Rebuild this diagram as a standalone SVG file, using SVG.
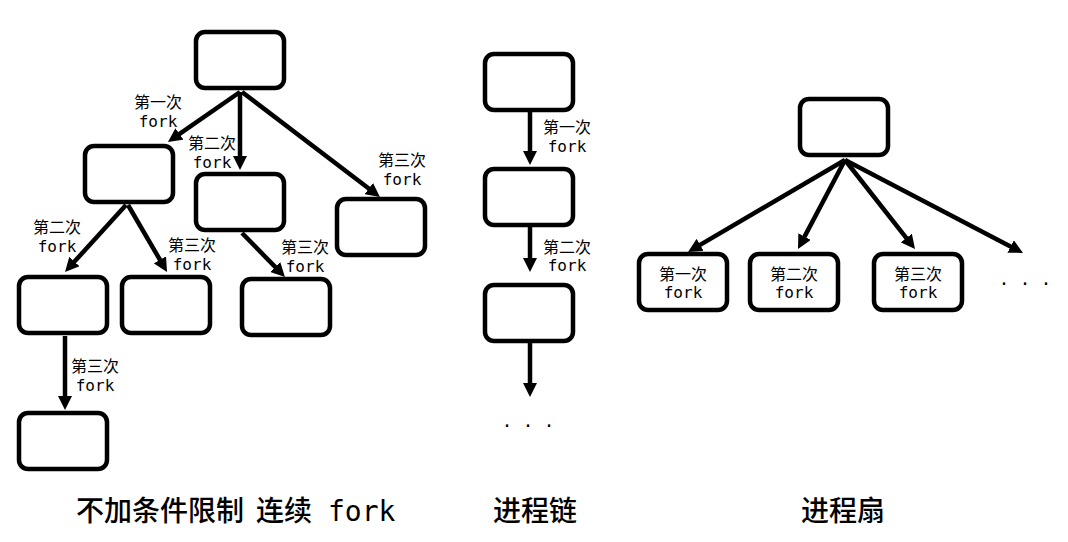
<svg xmlns="http://www.w3.org/2000/svg" width="1068" height="542" viewBox="0 0 1068 542">
<style>
.n{fill:#fff;stroke:#000;stroke-width:4.5}
.e{stroke:#000;stroke-width:4.5;fill:none;marker-end:url(#ah)}
text{font-family:"DejaVu Sans Mono","Noto Sans CJK SC",monospace;fill:#000;text-anchor:middle}
.l{font-size:16px}
.t{font-size:28px;font-weight:500}
.w{font-weight:normal}
.d{font-size:17.5px}
</style>
<defs>
<marker id="ah" markerUnits="userSpaceOnUse" markerWidth="14" markerHeight="14" refX="2" refY="7" orient="auto">
<path d="M0,0 L14,7 L0,14 z" fill="#000"/>
</marker>
</defs>
<rect width="1068" height="542" fill="#fff"/>
<g id="connectors">
<line class="e" x1="240" y1="92" x2="177.8" y2="135.1"/>
<line class="e" x1="240" y1="92" x2="240" y2="158"/>
<line class="e" x1="242" y1="92" x2="370.4" y2="189.8"/>
<line class="e" x1="126" y1="205" x2="73.1" y2="263.1"/>
<line class="e" x1="128" y1="205" x2="161" y2="261.6"/>
<line class="e" x1="242" y1="233" x2="276.6" y2="268.4"/>
<line class="e" x1="65" y1="336" x2="65" y2="398"/>
<line class="e" x1="530" y1="112" x2="530" y2="153"/>
<line class="e" x1="530" y1="227" x2="530" y2="260"/>
<line class="e" x1="530" y1="343" x2="530" y2="385"/>
<line class="e" x1="845" y1="160" x2="698.4" y2="245.9"/>
<line class="e" x1="845" y1="160" x2="803.6" y2="238.4"/>
<line class="e" x1="845" y1="160" x2="907.6" y2="239.6"/>
<line class="e" x1="845" y1="160" x2="1012.4" y2="247.4"/>
</g>
<g id="labels">
<text class="l" x="158" y="108">第一次</text><text class="l" x="158" y="127">fork</text>
<text class="l" x="212" y="149">第二次</text><text class="l" x="212" y="168">fork</text>
<text class="l" x="402" y="166">第三次</text><text class="l" x="402" y="185">fork</text>
<text class="l" x="57" y="233">第二次</text><text class="l" x="57" y="252">fork</text>
<text class="l" x="192" y="251">第三次</text><text class="l" x="192" y="270">fork</text>
<text class="l" x="305" y="253">第三次</text><text class="l" x="305" y="272">fork</text>
<text class="l" x="95" y="372">第三次</text><text class="l" x="95" y="391">fork</text>
<text class="l" x="567" y="133">第一次</text><text class="l" x="567" y="152">fork</text>
<text class="l" x="567" y="253">第二次</text><text class="l" x="567" y="271">fork</text>
<text class="d" x="528" y="427">. . .</text>
<text class="d" x="1025" y="285">. . .</text>
</g>
<g id="root"><rect class="n" x="196" y="32" width="88" height="56" rx="9"/></g>
<g id="a"><rect class="n" x="85" y="146" width="88" height="56" rx="9"/></g>
<g id="b"><rect class="n" x="196" y="174" width="88" height="56" rx="9"/></g>
<g id="c"><rect class="n" x="337" y="199" width="88" height="56" rx="9"/></g>
<g id="d"><rect class="n" x="19" y="277" width="88" height="56" rx="9"/></g>
<g id="e"><rect class="n" x="122" y="277" width="88" height="56" rx="9"/></g>
<g id="f"><rect class="n" x="242" y="279" width="88" height="56" rx="9"/></g>
<g id="g"><rect class="n" x="19" y="413" width="88" height="56" rx="9"/></g>
<g id="chain1"><rect class="n" x="485" y="54" width="88" height="56" rx="9"/></g>
<g id="chain2"><rect class="n" x="485" y="169" width="88" height="56" rx="9"/></g>
<g id="chain3"><rect class="n" x="485" y="285" width="88" height="56" rx="9"/></g>
<g id="fanroot"><rect class="n" x="800" y="99" width="88" height="56" rx="9"/></g>
<g id="fan1"><rect class="n" x="639" y="254" width="88" height="56" rx="9"/><text class="l" x="683" y="280">第一次</text><text class="l" x="683" y="298">fork</text></g>
<g id="fan2"><rect class="n" x="750" y="254" width="88" height="56" rx="9"/><text class="l" x="794" y="280">第二次</text><text class="l" x="794" y="298">fork</text></g>
<g id="fan3"><rect class="n" x="874" y="254" width="88" height="56" rx="9"/><text class="l" x="918" y="280">第三次</text><text class="l" x="918" y="298">fork</text></g>
<g id="titles">
<text class="t" x="76" y="521" style="text-anchor:start">不加条件限制<tspan x="256">连续</tspan><tspan class="w" x="328">fork</tspan></text>
<text class="t" x="535" y="521">进程链</text>
<text class="t" x="843" y="521">进程扇</text>
</g>
</svg>
